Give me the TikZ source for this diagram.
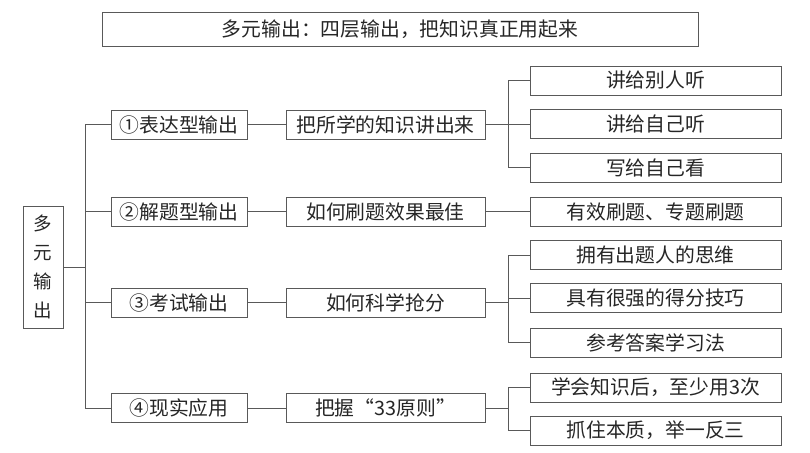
\documentclass[tikz,border=0pt]{standalone}
\usepackage{fontspec}
\setmainfont{Noto Sans CJK SC}
\usetikzlibrary{calc}

\tikzset{
	box/.style={draw=black!65, line width=0.8pt, text=black!85, inner sep=0pt, minimum height=29, font=\fontsize{19.8}{20}\selectfont},
	link/.style={draw=black!65, line width=0.8pt}
}

\begin{document}
\begin{tikzpicture}[x=1pt,y=-1pt]
			\useasboundingbox (0,0) rectangle (810,452);
			\node[box, minimum width=596, minimum height=34] (title) at (400,29) {多元输出：四层输出，把知识真正用起来};
			\node[box, minimum width=40, minimum height=122, align=center, font=\fontsize{18.5}{29}\selectfont] (root) at (43,267) {多\\元\\输\\出};
			\node[box, minimum width=136] (a1) at (179,124.5) {①表达型输出};
			\node[box, minimum width=136] (a2) at (179,211.5) {②解题型输出};
			\node[box, minimum width=136] (a3) at (179,302.5) {③考试输出};
			\node[box, minimum width=136] (a4) at (179,408) {④现实应用};
			\node[box, minimum width=199] (b1) at (385.5,124.5) {把所学的知识讲出来};
			\node[box, minimum width=199] (b2) at (385.5,211.5) {如何刷题效果最佳};
			\node[box, minimum width=199] (b3) at (385.5,302.5) {如何科学抢分};
			\node[box, minimum width=199] (b4) at (385.5,408) {把握“33原则”};
			\node[box, minimum width=251] (c1) at (655.5,80.5) {讲给别人听};
			\node[box, minimum width=251] (c2) at (655.5,124) {讲给自己听};
			\node[box, minimum width=251] (c3) at (655.5,167.5) {写给自己看};
			\node[box, minimum width=251] (c4) at (655.5,211.5) {有效刷题、专题刷题};
			\node[box, minimum width=251] (c5) at (655.5,255) {拥有出题人的思维};
			\node[box, minimum width=251] (c6) at (655.5,298) {具有很强的得分技巧};
			\node[box, minimum width=251] (c7) at (655.5,342.5) {参考答案学习法};
			\node[box, minimum width=251] (c8) at (655.5,387.5) {学会知识后，至少用3次};
			\node[box, minimum width=251] (c9) at (655.5,430.5) {抓住本质，举一反三};
			\foreach \i in {1,...,4} {
				\draw[link] (root.east) -- ++(22,0) |- (a\i.west);
				\draw[link] (a\i) -- (b\i);
			}
			\foreach \c in {c1,c2,c3} \draw[link] (b1.east) -- ++(23,0) |- (\c.west);
			\draw[link] (b2) -- (c4);
			\foreach \c in {c5,c6,c7} \draw[link] (b3.east) -- ++(23,0) |- (\c.west);
			\foreach \c in {c8,c9} \draw[link] (b4.east) -- ++(23,0) |- (\c.west);
		\end{tikzpicture}
\end{document}
